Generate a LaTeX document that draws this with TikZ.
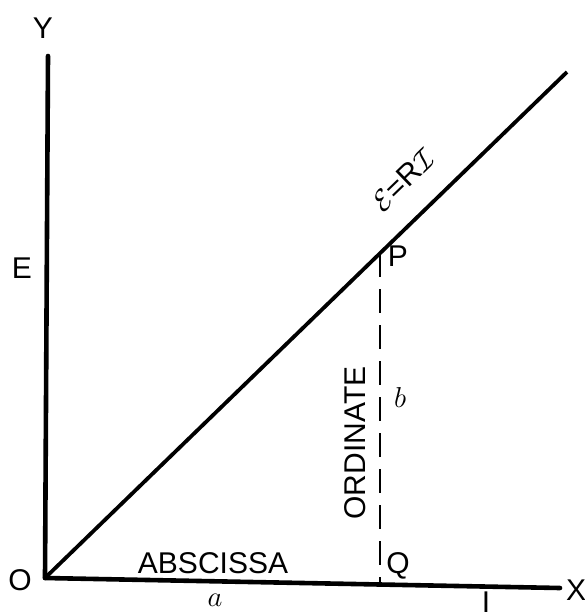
\documentclass[tikz,border=0pt]{standalone}
\usepackage{fontspec}
\setmainfont{Liberation Sans}
\usepackage{tikz}
\usetikzlibrary{positioning,calc}

\begin{document}
\begin{tikzpicture}[x=0.5pt,y=-0.5pt,
    axis/.style={line width=2.3pt,line cap=round},
    lab/.style={font=\fontsize{15}{15}\selectfont,inner sep=1pt}]
    \useasboundingbox (0,0) rectangle (584,616);

    % Axes
    \coordinate (O) at (45,578);
    \coordinate (ytop) at (48,56);
    \coordinate (xend) at (560,588);
    \draw[axis] (O) -- (ytop);
    \draw[axis] (O) -- (xend);
    \node[lab] (ylab) at (43,28) {Y};
    \node[lab] (xlab) at (576,590) {X};
    \node[lab] (olab) at (20,580) {O};
    \node[lab] (elab) at (22,268) {E};
    \node[lab] (ilab) at (486,602) {I};

    % Line E = RI
    \coordinate (lend) at (567,72);
    \draw[line width=1.9pt] (O) -- (lend);
    \node[lab,rotate=44] (law) at (403,180) {$\mathcal{E}$=R$\mathcal{I}$};

    % Ordinate PQ
    \coordinate (P) at (380,253);
    \coordinate (Q) at (380,582);
    \draw[line width=1.4pt,dash pattern=on 12pt off 6pt] (P) -- (Q);
    \node[lab] (plab) at (398,256) {P};
    \node[lab] (qlab) at (398,566) {Q};
    \node[lab,rotate=90] (ord) at (355,443) {ORDINATE};
    \node[lab] (blab) at (400,397) {$b$};

    % Abscissa
    \node[lab] (abs) at (213,563) {ABSCISSA};
    \node[lab] (alab) at (215,600) {$a$};
\end{tikzpicture}
\end{document}
